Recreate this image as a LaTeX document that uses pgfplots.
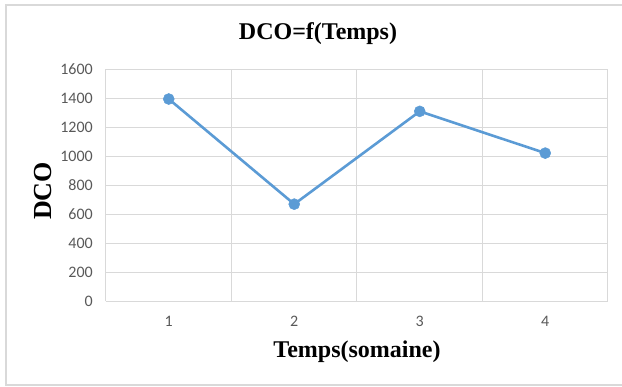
\documentclass[border=0pt]{standalone}
\usepackage{fontspec}
\setmainfont{Liberation Serif}
\newfontfamily\carlito{Carlito}
\usepackage{pgfplots}
\pgfplotsset{compat=1.18}
\definecolor{gridgray}{RGB}{217,217,217}
\definecolor{ticktxt}{RGB}{89,89,89}
\definecolor{xlblue}{RGB}{91,155,213}
\begin{document}
\begin{tikzpicture}[x=1pt,y=1pt]
\useasboundingbox (0,0) rectangle (622,387);
\draw[gridgray, line width=2pt] (622,381.5) -- (6,381.5) -- (6,2) -- (622,2);
\node[font=\fontsize{24}{28}\selectfont\bfseries] at (318,353) {DCO=f(Temps)};
\begin{axis}[
  at={(106pt,85.7pt)}, anchor=south west,
  scale only axis, width=502pt, height=232pt,
  xmin=0.5, xmax=4.5, ymin=0, ymax=1600,
  xtick={1,2,3,4},
  ytick={0,200,...,1600},
  axis line style={draw=none},
  ymajorgrids, major grid style={gridgray, line width=1pt},
  xtick style={draw=none}, ytick style={draw=none},
  extra x ticks={0.5,1.5,2.5,3.5,4.5},
  extra x tick labels={},
  extra x tick style={grid=major, major grid style={gridgray, line width=1pt},
    tick align=outside, major tick length=5pt, tick style={draw=gridgray, line width=1pt}},
  /pgf/number format/assume math mode=true,
  /pgf/number format/1000 sep={},
  tick label style={font=\carlito\fontsize{16}{18}\selectfont, text=ticktxt},
  yticklabel style={anchor=east, inner sep=0pt, xshift=-13pt},
  xticklabel style={anchor=north, inner sep=0pt, yshift=-15pt},
  xlabel={Temps(somaine)},
  ylabel={DCO},
  xlabel style={at={(axis description cs:0.5,-0.2185)}, anchor=center, font=\fontsize{24}{28}\selectfont\bfseries},
  ylabel style={at={(axis description cs:-0.1255,0.475)}, anchor=center, font=\fontsize{26}{30}\selectfont\bfseries},
]
\addplot[xlblue, line width=2.6pt, mark=*, mark size=5.5pt, mark options={solid, fill=xlblue, draw=xlblue, line width=0.5pt}]
  coordinates {(1,1395) (2,670) (3,1310) (4,1022)};
\end{axis}
\end{tikzpicture}
\end{document}
